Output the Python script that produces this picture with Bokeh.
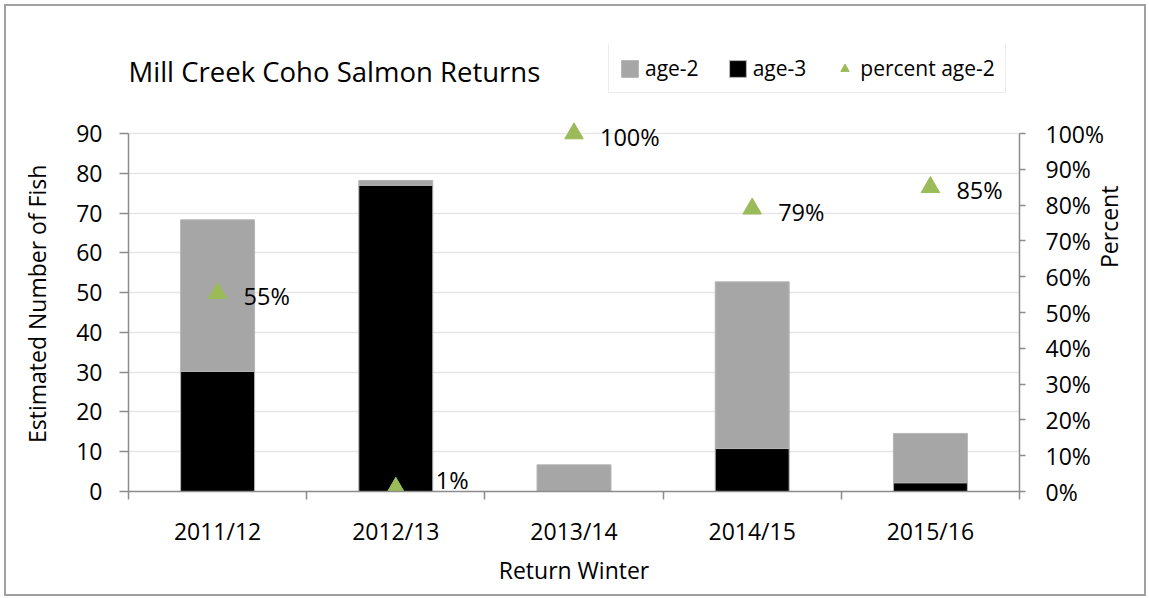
import math
from bokeh.plotting import figure
from bokeh.models import (ColumnDataSource, Range1d, LinearAxis, FixedTicker,
                          NumeralTickFormatter, Legend, LegendItem, LabelSet, Label)
from bokeh.core.properties import value
from bokeh.embed import file_html
from bokeh.resources import INLINE

categories = ["2011/12", "2012/13", "2013/14", "2014/15", "2015/16"]
age3 = [30.2, 77.0, 0.0, 10.8, 2.2]
age2 = [38.1, 1.2, 6.7, 41.9, 12.4]
pct_age2 = [0.554, 0.01, 1.0, 0.79, 0.85]
pct_labels = ["55%", "1%", "100%", "79%", "85%"]
y_ticks = [0, 10, 20, 30, 40, 50, 60, 70, 80, 90]
pct_ticks = [0.0, 0.1, 0.2, 0.3, 0.4, 0.5, 0.6, 0.7, 0.8, 0.9, 1.0]

pos = list(range(1, len(categories) + 1))
bounds = [i + 0.5 for i in range(0, len(categories) + 1)]
# value labels sit just right of the markers; one that would fall below the
# x axis is lifted a little and moved clear of its bar so it stays readable
low = [v < 0.05 for v in pct_age2]
lbl_dy = [8 if l else -3 for l in low]
lbl_dx = [40 if l else 26 for l in low]
src = ColumnDataSource(dict(x=pos, age3=age3, age2=age2, pct=pct_age2,
                            lbl=pct_labels, dy=lbl_dy, dx=lbl_dx))

FONT = "Open Sans"
AXIS_C = "#8c8c8c"
NB = "\u00a0"

# layout (px): axis span 0..90 is 358px tall; the frame reaches 89px above it
AX_PX = 358.0
TOP_PX = 89.0
FRAME_W = 891
FRAME_H = int(AX_PX + TOP_PX)
upp = 90.0 / AX_PX
y_range = Range1d(0, 90 + TOP_PX * upp)
pct_range = Range1d(0, 1 + TOP_PX / AX_PX)

p = figure(frame_width=FRAME_W, frame_height=FRAME_H,
           output_backend="svg", toolbar_location=None, title=None,
           x_range=Range1d(0.5, 5.5), y_range=y_range,
           min_border_left=122, min_border_right=125,
           min_border_top=38, min_border_bottom=103)
p.extra_y_ranges = {"pct": pct_range}
p.outline_line_color = None
p.background_fill_color = "white"
p.border_fill_color = "white"
p.styles = {"border": "2px solid #a0a0a0", "margin": "4px 0px 0px 4px"}

bars = p.vbar_stack(["age3", "age2"], x="x", width=0.415, source=src,
                    color=["#000000", "#a6a6a6"], line_color="#b4b4b4", line_width=1)

tri = p.scatter(x="x", y="pct", y_range_name="pct", source=src, marker="triangle",
                size=18.5, fill_color="#9bbb59", line_color="#9bbb59")

labels = LabelSet(x="x", y="pct", y_range_name="pct", text="lbl", source=src,
                  x_offset="dx", y_offset="dy", text_align="left", text_baseline="middle",
                  text_font=value(FONT), text_font_size="23.5px", text_color="#000000")
p.add_layout(labels)

# x axis
p.xaxis.ticker = FixedTicker(ticks=pos, minor_ticks=bounds)
p.xaxis.major_label_overrides = {i: c for i, c in zip(pos, categories)}
p.xaxis.major_tick_line_color = None
p.xaxis.minor_tick_out = 8
p.xaxis.minor_tick_in = 0
p.xaxis.minor_tick_line_color = AXIS_C
p.xaxis.minor_tick_line_width = 1.5
p.xaxis.axis_label = "Return Winter"
p.xaxis.major_label_standoff = 15

# left y axis (label padded so it centres on the 0..90 span, not the frame)
p.yaxis.bounds = (0, 90)
p.yaxis.ticker = FixedTicker(ticks=y_ticks)
p.yaxis.axis_label = "Estimated Number of Fish" + NB * 12
p.yaxis.major_tick_out = 9
p.yaxis.major_tick_in = 0
p.yaxis.minor_tick_line_color = None
p.yaxis.major_label_standoff = 17
p.yaxis.axis_label_standoff = 20

# right axis
ax2 = LinearAxis(y_range_name="pct", ticker=FixedTicker(ticks=pct_ticks),
                 formatter=NumeralTickFormatter(format="0%"),
                 axis_label="Percent", bounds=(0, 1))
ax2.major_tick_out = 6
ax2.major_tick_in = 0
ax2.minor_tick_line_color = None
ax2.major_label_standoff = 20
ax2.axis_label_standoff = 2
ax2.axis_label_orientation = -1.5 * math.pi
p.add_layout(ax2, "right")

for ax in [p.xaxis[0], p.yaxis[0], ax2]:
    ax.axis_line_color = AXIS_C
    ax.axis_line_width = 1.5
    ax.major_tick_line_width = 1.5
    if ax is not p.xaxis[0]:
        ax.major_tick_line_color = AXIS_C
    ax.major_label_text_font = FONT
    ax.major_label_text_font_size = "23px"
    ax.major_label_text_color = "#000000"
    ax.axis_label_text_font = FONT
    ax.axis_label_text_font_size = "23px"
    ax.axis_label_text_font_style = "normal"
    ax.axis_label_text_color = "#000000"
p.xaxis.axis_label_standoff = 4

p.xgrid.visible = False
p.ygrid.ticker = FixedTicker(ticks=y_ticks)
p.ygrid.bounds = (0, 90)
p.ygrid.grid_line_color = "#e6e6e6"
p.ygrid.grid_line_width = 1.5

# chart title in the headroom of the frame
title = Label(x=0.5, y=90 + 62 * upp, x_units="data", y_units="data",
              text="Mill Creek Coho Salmon Returns", text_font=FONT,
              text_font_size="27.5px", text_color="#000000", text_baseline="alphabetic",
              text_align="left")
p.add_layout(title)

legend = Legend(items=[LegendItem(label="age-2", renderers=[bars[1]]),
                       LegendItem(label="age-3", renderers=[bars[0]]),
                       LegendItem(label="percent age-2", renderers=[tri])],
                orientation="horizontal", location=(480, 398),
                label_text_font=FONT, label_text_font_size="21px",
                label_text_color="#000000",
                glyph_width=21, glyph_height=21, label_height=20,
                label_standoff=5, spacing=28, padding=10, margin=0,
                border_line_color="#d9d9d9", border_line_width=1.5,
                background_fill_color="white", background_fill_alpha=1)
p.add_layout(legend, "center")

open("out.html", "w").write(file_html(p, INLINE))
